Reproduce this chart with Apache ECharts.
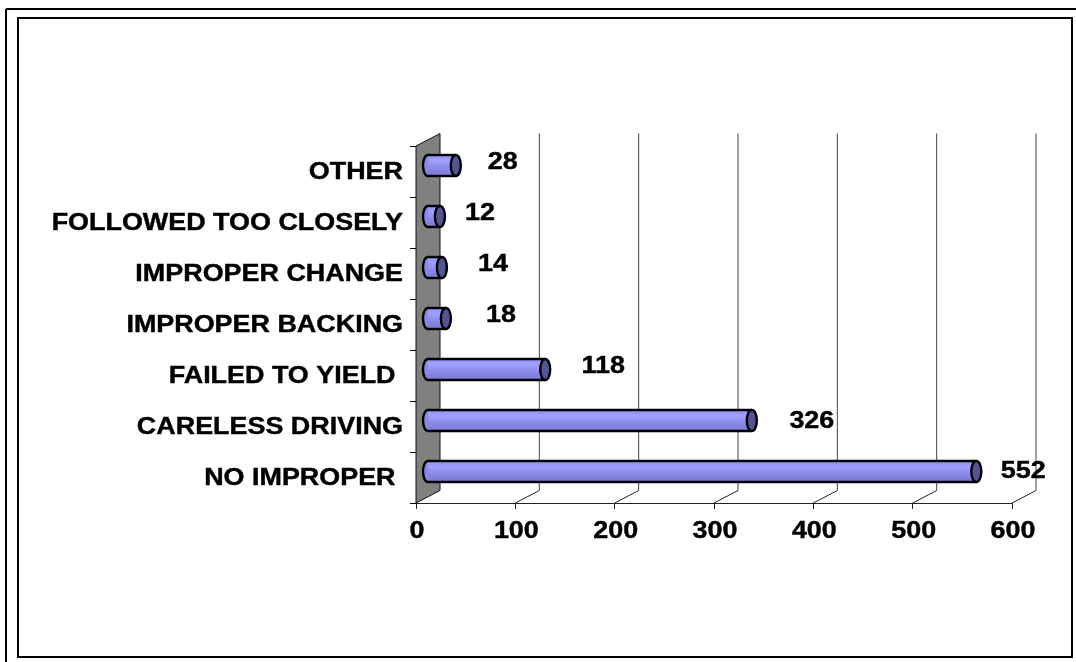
<!DOCTYPE html>
<html>
<head>
<meta charset="utf-8">
<style>html,body{margin:0;padding:0;background:#fff}#c{width:1076px;height:662px}</style>
<script src="https://cdn.jsdelivr.net/npm/echarts@6/dist/echarts.min.js"></script>
</head>
<body>
<div id="c"></div>
<script>
const categories = ['NO IMPROPER ', 'CARELESS DRIVING', 'FAILED TO YIELD ', 'IMPROPER BACKING', 'IMPROPER CHANGE', 'FOLLOWED TOO CLOSELY', 'OTHER'];
const values = [552, 326, 118, 18, 14, 12, 28];
const valueTicks = [0, 100, 200, 300, 400, 500, 600];
// hand-placed data label nudges from the original chart (px from the bar's end)
const labelNudgeX = [59, 72, 70, 67, 63, 52, 59];
const labelNudgeY = [-6, -5, -9, -9, -9, -9, -9];

const FONT = 'bold 23px "Liberation Sans", Arial, sans-serif';
const STRETCH = 1.17;
const DX = 24, DY = -12.5;        // depth of the 3D box
const BDX = 12, BDY = -6;         // depth of the bars
const BAR_H = 21, CAP_RX = 5;

function stretchedText(text, x, y, align) {
  return { type: 'text', x: x, y: y, scaleX: STRETCH, silent: true, z2: 30,
    style: { text: text, x: 0, y: 0, font: FONT, fill: '#000', stroke: '#000', lineWidth: 0.4, align: align, verticalAlign: 'middle' } };
}

const chart = echarts.init(document.getElementById('c'), null, { renderer: 'canvas' });
chart.setOption({
  animation: false,
  backgroundColor: '#fff',
  graphic: [
    { type: 'line', silent: true, shape: { x1: 6, y1: 9, x2: 1076, y2: 9 }, style: { stroke: '#000', lineWidth: 2 } },
    { type: 'line', silent: true, shape: { x1: 6, y1: 9, x2: 6, y2: 662 }, style: { stroke: '#000', lineWidth: 2 } },
    { type: 'rect', silent: true, shape: { x: 18, y: 18, width: 1054, height: 639 }, style: { fill: 'none', stroke: '#000', lineWidth: 2 } }
  ],
  grid: { left: 416, right: 64, top: 146, bottom: 159 },
  xAxis: {
    type: 'value', min: 0, max: 600, interval: 100,
    axisLine: { show: true, lineStyle: { color: '#222', width: 1 } },
    axisTick: { show: true, length: 6, lineStyle: { color: '#222', width: 1 } },
    axisLabel: { show: false },
    splitLine: { show: false }
  },
  yAxis: {
    type: 'category', data: categories,
    axisLine: { show: true, lineStyle: { color: '#000', width: 1 } },
    axisTick: { show: true, length: 6, lineStyle: { color: '#000', width: 1 } },
    axisLabel: { show: false }
  },
  series: [
    { // back wall, left side wall and floor diagonals
      type: 'custom', z: 1, silent: true,
      data: valueTicks.map(v => [v, 0]),
      encode: { x: 0, y: 1 },
      renderItem(params, api) {
        const cs = params.coordSys;
        const x = api.coord([api.value(0), 0])[0];
        const top = cs.y, bot = cs.y + cs.height;
        const kids = [];
        if (api.value(0) === 0) {
          kids.push({ type: 'polygon',
            shape: { points: [[x, top], [x + DX, top + DY], [x + DX, bot + DY], [x, bot]] },
            style: { fill: '#808080', stroke: '#111', lineWidth: 1 } });
        } else {
          kids.push({ type: 'line', shape: { x1: x + DX, y1: top + DY, x2: x + DX, y2: bot + DY },
            style: { stroke: '#444', lineWidth: 1 } });
          kids.push({ type: 'line', shape: { x1: x, y1: bot, x2: x + DX, y2: bot + DY },
            style: { stroke: '#222', lineWidth: 1 } });
        }
        return { type: 'group', children: kids };
      }
    },
    { // cylinders
      type: 'custom', z: 3, silent: true,
      data: values.map((v, i) => [v, i]),
      encode: { x: 0, y: 1 },
      renderItem(params, api) {
        const end = api.coord([api.value(0), api.value(1)]);
        const base = api.coord([0, api.value(1)]);
        const cy = end[1] + BDY, x0 = base[0] + BDX, x1 = end[0] + BDX, h = BAR_H;
        const grad = new echarts.graphic.LinearGradient(0, 0, 0, 1, [
          { offset: 0, color: '#8f8ff2' },
          { offset: 0.25, color: '#a0a0ff' },
          { offset: 0.6, color: '#8a8ae8' },
          { offset: 1, color: '#7a7ad0' }
        ]);
        return { type: 'group', children: [
          { type: 'ellipse', shape: { cx: x0, cy: cy, rx: CAP_RX, ry: h / 2 }, style: { fill: '#8888ee', stroke: '#000', lineWidth: 2.4 } },
          { type: 'rect', shape: { x: x0, y: cy - h / 2, width: x1 - x0, height: h }, style: { fill: grad } },
          { type: 'line', shape: { x1: x0, y1: cy - h / 2, x2: x1, y2: cy - h / 2 }, style: { stroke: '#000', lineWidth: 2.4 } },
          { type: 'line', shape: { x1: x0, y1: cy + h / 2, x2: x1, y2: cy + h / 2 }, style: { stroke: '#000', lineWidth: 2.4 } },
          { type: 'ellipse', shape: { cx: x1, cy: cy, rx: CAP_RX, ry: h / 2 }, style: { fill: '#545490', stroke: '#000', lineWidth: 2.4 } }
        ] };
      }
    },
    { // data labels
      type: 'custom', z: 5, silent: true,
      data: values.map((v, i) => [v, i]),
      encode: { x: 0, y: 1 },
      renderItem(params, api) {
        const i = params.dataIndex;
        const p = api.coord([api.value(0), api.value(1)]);
        return stretchedText(String(values[i]), p[0] + labelNudgeX[i], p[1] + labelNudgeY[i], 'center');
      }
    },
    { // category tick labels
      type: 'custom', z: 5, silent: true,
      data: categories.map((c, i) => [0, i]),
      encode: { x: 0, y: 1 },
      renderItem(params, api) {
        const p = api.coord([0, api.value(1)]);
        return stretchedText(categories[params.dataIndex], p[0] - 13, p[1] + 1, 'right');
      }
    },
    { // value tick labels
      type: 'custom', z: 5, silent: true,
      data: valueTicks.map(v => [v, 0]),
      encode: { x: 0, y: 1 },
      renderItem(params, api) {
        const p = api.coord([api.value(0), 0]);
        const bot = params.coordSys.y + params.coordSys.height;
        return stretchedText(String(valueTicks[params.dataIndex]), p[0] + 1, bot + 29, 'center');
      }
    }
  ]
});
</script>
</body>
</html>
